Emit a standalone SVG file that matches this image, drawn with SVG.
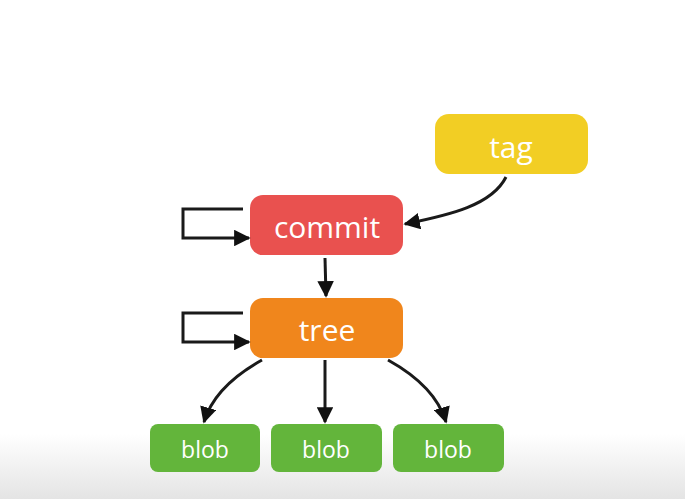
<svg xmlns="http://www.w3.org/2000/svg" width="685" height="499" viewBox="0 0 685 499">
<defs>
<linearGradient id="bg" x1="0" y1="0" x2="0" y2="1">
<stop offset="0" stop-color="#ffffff"/>
<stop offset="0.87" stop-color="#ffffff"/>
<stop offset="1" stop-color="#e4e4e4"/>
</linearGradient>
<marker id="ah" viewBox="0 0 10 10" refX="9" refY="5" markerWidth="5.5" markerHeight="5.5" orient="auto" markerUnits="strokeWidth">
<path d="M0,0 L10,5 L0,10 z" fill="#111"/>
</marker>
<style>
.lbl{font-family:"Comic Sans MS","Open Sans",sans-serif;fill:#fff;text-anchor:middle;dominant-baseline:central;}
.big{font-size:30px;}
.small{font-size:23px;}
.c{fill:none;stroke:#1a1a1a;stroke-width:3;marker-end:url(#ah);}
</style>
</defs>
<rect width="685" height="499" fill="url(#bg)"/>
<g id="tag"><rect x="435" y="114" width="153" height="60" rx="14" fill="#F2CE24"/><text class="lbl big" x="511" y="146">tag</text></g>
<g id="commit"><rect x="250" y="195" width="153" height="60" rx="13" fill="#E9514F"/><text class="lbl big" x="327" y="226">commit</text></g>
<g id="tree"><rect x="250" y="298" width="153" height="60" rx="13" fill="#F0861C"/><text class="lbl big" x="327" y="329">tree</text></g>
<g id="blob1"><rect x="150" y="424" width="110" height="48" rx="8" fill="#63B53B"/><text class="lbl small" x="205" y="449">blob</text></g>
<g id="blob2"><rect x="271" y="424" width="111" height="48" rx="8" fill="#63B53B"/><text class="lbl small" x="326" y="449">blob</text></g>
<g id="blob3"><rect x="393" y="424" width="111" height="48" rx="8" fill="#63B53B"/><text class="lbl small" x="448" y="449">blob</text></g>
<g id="connectors">
<path class="c" d="M243,209 L183,209 L183,238 L249,238"/>
<path class="c" d="M243,313 L183,313 L183,342 L249,342"/>
<path class="c" d="M325,258 L326,296"/>
<path class="c" d="M506,177 C492,205 450,215 405,224"/>
<path class="c" d="M262,360 C235,375 212,395 204,422"/>
<path class="c" d="M325,360 L325,422"/>
<path class="c" d="M388,360 C415,375 438,395 446,422"/>
</g>
</svg>
